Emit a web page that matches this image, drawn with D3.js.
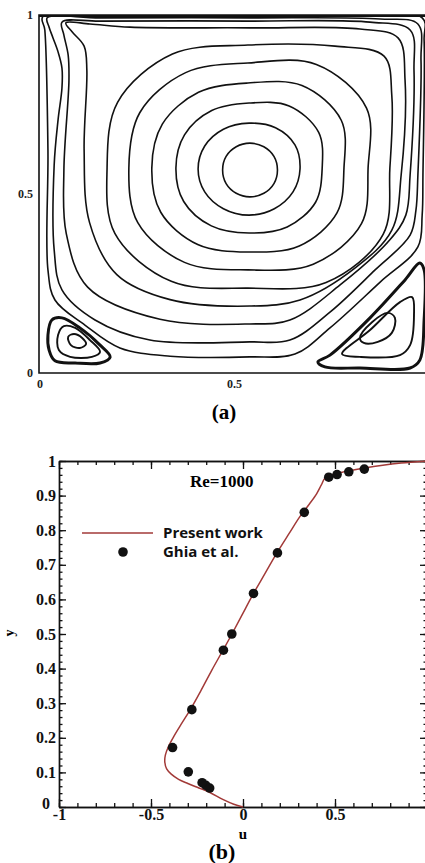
<!DOCTYPE html>
<html>
<head>
<meta charset="utf-8">
<script src="https://cdn.jsdelivr.net/npm/d3@7/dist/d3.min.js"></script>
<style>
  body { margin: 0; background: #fff; }
  svg { display: block; }
</style>
</head>
<body>
<script>
// ---------- (a) streamlines: points, x and y in 0..1
// primary vortex, innermost ring first
const primaryRings = [
  [[.613,.567],[.604,.605],[.578,.632],[.542,.642],[.507,.632],[.481,.605],[.472,.567],[.481,.529],[.507,.502],[.542,.492],[.578,.502],[.604,.529]],
  [[.671,.570],[.658,.637],[.608,.685],[.540,.698],[.474,.681],[.426,.634],[.409,.570],[.426,.506],[.474,.459],[.540,.441],[.605,.459],[.653,.506]],
  [[.728,.573],[.719,.672],[.643,.746],[.540,.754],[.444,.733],[.374,.665],[.352,.573],[.372,.479],[.443,.411],[.540,.391],[.638,.408],[.711,.477]],
  [[.784,.573],[.777,.706],[.676,.803],[.537,.810],[.410,.784],[.317,.695],[.290,.573],[.313,.449],[.408,.359],[.537,.338],[.669,.355],[.766,.447]],
  [[.846,.573],[.842,.740],[.713,.862],[.537,.866],[.377,.839],[.259,.727],[.231,.573],[.254,.420],[.374,.309],[.537,.288],[.705,.304],[.829,.417]],
  [[.902,.573],[.907,.774],[.887,.885],[.761,.913],[.537,.916],[.343,.891],[.202,.756],[.175,.573],[.195,.390],[.340,.256],[.537,.237],[.738,.253],[.885,.388]],
  [[.931,.553],[.941,.818],[.923,.936],[.825,.961],[.542,.964],[.234,.966],[.131,.975],[.069,.978],[.085,.953],[.116,.913],[.123,.846],[.116,.623],[.130,.420],[.200,.275],[.337,.205],[.542,.187],[.671,.204],[.812,.293],[.907,.399]],
  [[.954,.553],[.964,.846],[.954,.958],[.851,.980],[.542,.983],[.157,.983],[.059,.980],[.064,.944],[.075,.888],[.077,.818],[.064,.567],[.070,.390],[.125,.240],[.311,.150],[.542,.137],[.645,.148],[.774,.246],[.902,.372],[.943,.441]],
  [[.974,.553],[.982,.874],[.974,.975],[.877,.989],[.542,.992],[.157,.992],[.021,.992],[.026,.966],[.036,.936],[.049,.897],[.059,.852],[.059,.796],[.049,.707],[.039,.581],[.039,.344],[.059,.232],[.144,.148],[.285,.092],[.542,.087],[.645,.092],[.748,.170],[.864,.288],[.954,.385],[.969,.455]],
  [[.987,.553],[.990,.930],[.985,.992],[.542,.996],[.010,.996],[.015,.958],[.023,.623],[.023,.288],[.041,.204],[.118,.134],[.208,.070],[.337,.047],[.542,.045],[.658,.053],[.748,.126],[.877,.254],[.974,.352],[.985,.441]]
];
// corner eddies, outer loop first
const leftEddy = [
  [[.023,.106],[.033,.148],[.059,.154],[.105,.126],[.157,.078],[.183,.045],[.157,.028],[.093,.028],[.041,.034],[.026,.064]],
  [[.049,.106],[.064,.131],[.093,.126],[.131,.092],[.157,.059],[.136,.045],[.080,.045],[.051,.064]],
  [[.075,.101],[.090,.109],[.111,.098],[.121,.081],[.105,.070],[.082,.078]]
];
const rightEddy = [
  [[.717,.031],[.748,.050],[.851,.154],[.941,.260],[.979,.307],[.990,.288],[.990,.148],[.979,.036],[.954,.014],[.825,.014],[.735,.017]],
  [[.779,.053],[.851,.120],[.928,.198],[.959,.212],[.964,.162],[.954,.078],[.928,.050],[.825,.045]],
  [[.825,.098],[.856,.142],[.897,.168],[.915,.154],[.907,.112],[.871,.087],[.835,.084]]
];
const aTicks = [0, 0.5, 1];
const aTickLabels = ["0", "0.5", "1"];

// ---------- (b) u-velocity on the vertical centre line, Re=1000
const presentY = [0, .008, .022, .042, .055, .068, .080, .095, .110, .130, .150, .175, .205, .240, .280, .335, .395, .452, .500, .555, .615, .675, .735, .790, .840, .875, .905, .930, .950, .960, .970, .980, .988, .994, 1];
const presentU = [0, -.05, -.11, -.18, -.24, -.30, -.35, -.39, -.415, -.425, -.422, -.405, -.375, -.335, -.288, -.23, -.17, -.11, -.06, -.005, .055, .12, .185, .25, .31, .36, .40, .425, .445, .48, .56, .66, .76, .86, 1];
const ghiaY = [.0547, .0625, .0703, .1016, .1719, .2813, .4531, .5000, .6172, .7344, .8516, .9531, .9609, .9688, .9766];
const ghiaU = [-.18109, -.20196, -.22220, -.29730, -.38289, -.27805, -.10648, -.06080, .05702, .18719, .33304, .46604, .51117, .57492, .65928];
const uTicks = [-1, -0.5, 0, 0.5];
const uTickLabels = ["-1", "-0.5", "0", "0.5"];
const yTicks = [0, .1, .2, .3, .4, .5, .6, .7, .8, .9, 1];
const yTickLabels = ["0", "0.1", "0.2", "0.3", "0.4", "0.5", "0.6", "0.7", "0.8", "0.9", "1"];

const serif = "'Liberation Serif', 'Times New Roman', serif";
const red = "#a23a38";

const svg = d3.select("body").append("svg").attr("width", 425).attr("height", 863);

// ===== (a)
const xa = d3.scaleLinear([0, 1], [39, 428]);
const ya = d3.scaleLinear([0, 1], [373, 15]);
const ring = d3.line()
  .x((d) => xa(d[0]))
  .y((d) => ya(d[1]))
  .curve(d3.curveCatmullRomClosed.alpha(0.5));

svg.append("clipPath").attr("id", "boxA")
  .append("rect")
  .attr("x", xa(0)).attr("y", ya(1))
  .attr("width", xa(1) - xa(0)).attr("height", ya(0) - ya(1));

const ga = svg.append("g").attr("clip-path", "url(#boxA)");
ga.selectAll(".ring").data(primaryRings).enter().append("path")
  .attr("class", "ring")
  .attr("d", ring)
  .attr("fill", "none").attr("stroke", "#111").attr("stroke-width", 1.6);
ga.selectAll(".eddy").data(leftEddy.concat(rightEddy)).enter().append("path")
  .attr("class", "eddy")
  .attr("d", ring)
  .attr("fill", "none").attr("stroke", "#111")
  .attr("stroke-width", (d, i) => (i % 3 === 0 ? 3 : 1.9));

// box
svg.append("path")
  .attr("d", `M${xa(1)},${ya(1)}H${xa(0)}V${ya(0)}H${xa(1)}`)
  .attr("fill", "none").attr("stroke", "#111").attr("stroke-width", 1.6);
svg.append("line")
  .attr("x1", xa(0)).attr("x2", xa(1)).attr("y1", ya(1) + 1).attr("y2", ya(1) + 1)
  .attr("stroke", "#111").attr("stroke-width", 2.2);

const aText = (sel) => sel.attr("font-family", serif).attr("font-weight", "bold").attr("font-size", 12).attr("fill", "#222");
svg.selectAll(".alab-y").data(aTicks).enter().append("text")
  .attr("class", "alab-y")
  .attr("x", xa(0) - 6).attr("y", (d) => ya(d) + 4)
  .attr("text-anchor", "end")
  .text((d, i) => aTickLabels[i])
  .call(aText);
svg.selectAll(".alab-x").data(aTicks.slice(0, 2)).enter().append("text")
  .attr("class", "alab-x")
  .attr("x", (d) => xa(d) + 1).attr("y", ya(0) + 15)
  .attr("text-anchor", "middle")
  .text((d, i) => aTickLabels[i])
  .call(aText);
svg.append("text").attr("x", 224).attr("y", 419).attr("text-anchor", "middle")
  .attr("font-family", serif).attr("font-weight", "bold").attr("font-size", 21)
  .text("(a)");

// ===== (b)
const xb = d3.scaleLinear([-1, 1], [59, 427]);
const yb = d3.scaleLinear([0, 1], [807, 461]);
const gb = svg.append("g");

const styleAxis = (g) => {
  g.select(".domain").attr("stroke", "#111").attr("stroke-width", 1.4);
  g.selectAll(".tick line").attr("stroke", "#111").attr("stroke-width", 1.3);
  g.selectAll(".tick text").attr("font-family", serif).attr("font-weight", "bold")
    .attr("font-size", 16).attr("fill", "#111");
};
const minorU = d3.range(-10, 11).map((i) => i / 10);
const minorY = d3.range(0, 51).map((i) => i / 50);

// left
gb.append("g").attr("transform", `translate(${xb(-1)},0)`)
  .call(d3.axisLeft(yb).tickValues(minorY).tickSize(-3.5).tickSizeOuter(0).tickFormat(""))
  .call(styleAxis);
const yAxisG = gb.append("g").attr("transform", `translate(${xb(-1)},0)`)
  .call(d3.axisLeft(yb).tickValues(yTicks).tickSize(-7).tickSizeOuter(0).tickPadding(3)
    .tickFormat((d, i) => yTickLabels[i]))
  .call(styleAxis);
// the "0" sits a little further left, clear of "-1"
yAxisG.selectAll(".tick text").filter((d) => d === 0).attr("dx", -6).attr("dy", "0.1em");
// right
gb.append("g").attr("transform", `translate(${xb(1)},0)`)
  .call(d3.axisRight(yb).tickValues(minorY).tickSize(-3.5).tickSizeOuter(0).tickFormat(""))
  .call(styleAxis);
gb.append("g").attr("transform", `translate(${xb(1)},0)`)
  .call(d3.axisRight(yb).tickValues(yTicks).tickSize(-7).tickSizeOuter(0).tickFormat(""))
  .call(styleAxis);
// bottom
gb.append("g").attr("transform", `translate(0,${yb(0)})`)
  .call(d3.axisBottom(xb).tickValues(minorU).tickSize(-4).tickSizeOuter(0).tickFormat(""))
  .call(styleAxis);
gb.append("g").attr("transform", `translate(0,${yb(0)})`)
  .call(d3.axisBottom(xb).tickValues(uTicks).tickSize(-8).tickSizeOuter(0).tickPadding(2)
    .tickFormat((d, i) => uTickLabels[i]))
  .call(styleAxis);
// top
gb.append("g").attr("transform", `translate(0,${yb(1)})`)
  .call(d3.axisTop(xb).tickValues(minorU).tickSize(-4).tickSizeOuter(0).tickFormat(""))
  .call(styleAxis);
gb.append("g").attr("transform", `translate(0,${yb(1)})`)
  .call(d3.axisTop(xb).tickValues(uTicks.concat([1])).tickSize(-8).tickSizeOuter(0).tickFormat(""))
  .call(styleAxis);

// present work curve
const present = presentY.map((y, i) => [presentU[i], y]);
gb.append("path")
  .datum(present)
  .attr("d", d3.line().x((d) => xb(d[0])).y((d) => yb(d[1])).curve(d3.curveCatmullRom.alpha(0.5)))
  .attr("fill", "none").attr("stroke", red).attr("stroke-width", 1.5);

// Ghia et al.
gb.selectAll(".ghia").data(ghiaY).enter().append("circle")
  .attr("class", "ghia")
  .attr("cx", (d, i) => xb(ghiaU[i])).attr("cy", (d) => yb(d))
  .attr("r", 4.8).attr("fill", "#111");

// labels
gb.append("text").attr("x", 243).attr("y", 839).attr("text-anchor", "middle")
  .attr("font-family", serif).attr("font-weight", "bold").attr("font-size", 15).text("u");
gb.append("text").attr("transform", "translate(14,633) rotate(-90)").attr("text-anchor", "middle")
  .attr("font-family", serif).attr("font-weight", "bold").attr("font-size", 14).text("y");
gb.append("text").attr("x", 190).attr("y", 487)
  .attr("font-family", serif).attr("font-weight", "bold").attr("font-size", 17).text("Re=1000");

// legend
gb.append("line").attr("x1", 82).attr("x2", 153).attr("y1", 533).attr("y2", 533)
  .attr("stroke", red).attr("stroke-width", 1.6);
gb.append("circle").attr("cx", 123).attr("cy", 552).attr("r", 4.8).attr("fill", "#111");
gb.selectAll(".leg").data(["Present work", "Ghia et al."]).enter().append("text")
  .attr("class", "leg")
  .attr("x", 163).attr("y", (d, i) => 538 + i * 19)
  .attr("font-family", "'Open Sans', sans-serif").attr("font-weight", "bold").attr("font-size", 15)
  .attr("fill", "#111")
  .text((d) => d);

svg.append("text").attr("x", 222).attr("y", 859).attr("text-anchor", "middle")
  .attr("font-family", serif).attr("font-weight", "bold").attr("font-size", 22)
  .text("(b)");
</script>
</body>
</html>
